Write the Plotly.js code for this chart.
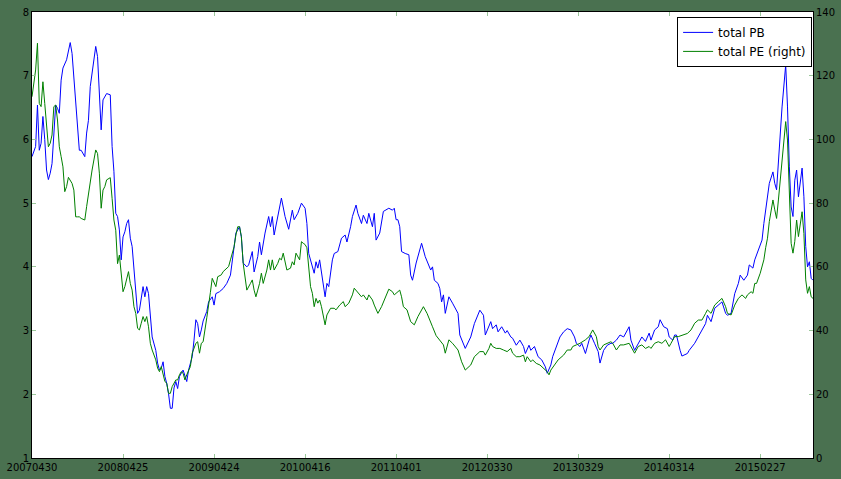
<!DOCTYPE html>
<html>
<head>
<meta charset="utf-8">
<script src="https://cdn.plot.ly/plotly-3.0.1.min.js"></script>
<style>
html,body{margin:0;padding:0;background:#4a7150;}
#chart{width:841px;height:479px;}
</style>
</head>
<body>
<div id="chart"></div>
<script>
const tickIdx = [0, 50, 100, 150, 200, 250, 300, 350, 400];
const tickLabels = ['20070430','20080425','20090424','20100416','20110401','20120330','20130329','20140314','20150227'];

const pbIdx = [0,2,3,4,5,6,7,8,9,10,11,12,13,14,15,16,17,19,21,22,24,25,26,27,29,30,31,32,34,35,36,37,38,39,40,41,43,44,45,46,47,48,49,50,51,52,53,54,55,56,57,58,59,60,61,62,63,64,65,66,68,69,70,71,72,73,74,75,76,77,78,79,80,81,83,84,85,86,88,89,90,91,92,93,94,96,97,99,100,101,103,105,107,109,111,112,114,115,116,118,119,121,122,124,125,126,128,130,131,132,133,135,137,139,141,143,144,146,148,150,151,152,154,155,156,157,158,159,161,162,163,165,166,168,170,172,173,175,176,178,179,181,182,184,185,187,188,189,191,193,196,198,199,200,201,202,203,205,207,208,209,211,214,216,218,219,220,221,223,224,225,226,227,229,231,234,235,238,241,243,246,248,249,252,253,255,256,258,260,261,263,264,266,268,270,271,273,274,276,278,280,282,283,285,286,288,290,292,294,296,297,298,299,301,302,304,306,307,309,311,312,314,316,318,319,321,323,325,328,329,331,333,335,337,339,340,342,344,345,347,349,350,352,353,354,356,357,360,361,364,367,370,371,373,375,377,379,381,382,384,386,388,389,391,393,394,396,397,399,401,402,404,405,407,408,409,411,412,414,415,416,417,418,419,420,421,423,424,425,426,427,428,429];
const pbVals = [5.73,5.89,6.54,5.83,5.94,6.36,6.00,5.52,5.37,5.47,5.62,6.15,6.54,6.49,6.41,6.93,7.12,7.25,7.52,7.35,6.57,6.10,5.83,5.83,5.73,6.10,6.30,6.83,7.30,7.46,7.30,6.62,6.15,6.62,6.67,6.72,6.70,5.89,5.50,4.84,4.79,4.58,4.11,4.47,4.55,4.68,4.74,4.45,4.32,4.00,3.69,3.27,3.32,3.48,3.69,3.53,3.69,3.58,3.17,2.90,2.69,2.49,2.38,2.41,2.51,2.28,2.17,2.01,1.78,1.78,2.10,2.20,2.09,2.28,2.38,2.28,2.20,2.38,2.59,2.85,3.17,3.11,2.90,3.01,3.15,3.30,3.45,3.53,3.40,3.58,3.61,3.66,3.74,3.87,4.26,4.53,4.63,4.47,4.06,4.00,4.03,4.24,3.92,4.16,4.39,4.19,4.53,4.79,4.63,4.79,4.50,4.79,5.08,4.79,4.59,4.89,4.74,4.84,5.00,4.92,4.68,4.21,4.00,3.90,4.08,3.98,4.11,3.90,3.53,3.74,3.69,4.11,4.21,4.24,4.45,4.50,4.39,4.63,4.79,4.97,4.84,4.68,4.81,4.68,4.84,4.63,4.84,4.42,4.53,4.87,4.92,4.89,4.92,4.74,4.74,4.63,4.24,4.21,4.19,3.87,3.79,4.06,4.37,4.16,4.03,3.95,4.00,3.79,3.74,3.66,3.45,3.56,3.27,3.53,3.43,3.27,2.93,2.72,2.90,3.11,3.32,3.24,2.93,3.14,3.03,3.09,2.98,3.06,2.96,3.00,2.90,2.88,2.77,2.85,2.75,2.64,2.77,2.69,2.75,2.59,2.54,2.43,2.33,2.46,2.59,2.75,2.90,2.98,3.03,3.01,2.96,2.90,2.80,2.75,2.80,2.64,2.85,2.93,2.80,2.67,2.49,2.69,2.77,2.80,2.80,2.85,2.93,2.90,3.06,2.85,2.69,2.80,2.90,2.83,2.96,2.85,3.01,3.06,3.17,3.06,3.03,2.90,2.85,2.93,2.93,2.69,2.60,2.64,2.69,2.80,2.96,3.11,3.24,3.14,3.35,3.40,3.45,3.27,3.24,3.27,3.58,3.74,3.87,3.79,3.87,4.03,3.98,4.11,4.26,4.42,4.68,5.10,5.31,5.49,5.31,5.21,6.20,6.51,7.17,6.51,5.57,4.94,4.79,5.36,5.52,5.10,5.55,5.10,4.32,4.00,4.08,3.82,3.79];

const peIdx = [0,2,3,4,5,6,7,8,9,10,11,12,13,14,15,16,17,18,19,20,22,23,24,25,26,27,29,30,31,33,35,36,37,38,39,40,41,43,44,45,46,47,48,49,50,51,52,53,54,55,56,57,58,59,60,61,62,63,64,65,66,68,69,70,71,72,73,74,75,76,77,79,80,81,82,83,84,85,87,88,90,91,92,93,94,96,97,98,99,101,102,104,105,107,108,109,111,112,113,114,115,116,117,118,120,121,122,123,124,125,126,127,129,130,131,132,133,135,136,137,138,139,140,142,143,144,145,147,148,149,150,151,152,153,154,155,156,157,158,159,161,162,164,166,167,169,171,172,174,176,177,178,180,181,182,184,185,187,188,190,192,194,196,198,199,202,203,204,206,208,210,212,215,217,219,220,222,224,226,227,229,231,234,236,238,241,243,246,248,249,251,252,253,255,257,259,261,263,264,266,268,270,271,272,274,275,277,279,281,283,284,285,287,289,292,294,296,297,299,301,304,306,308,310,311,312,314,316,318,319,321,323,325,328,329,331,333,335,337,339,340,342,344,346,348,350,351,353,355,357,360,362,364,366,368,370,371,373,375,377,379,381,382,384,386,388,390,392,393,395,396,397,398,400,402,403,404,405,407,408,409,410,411,412,413,414,415,416,417,418,419,420,421,423,424,425,426,427,428,429];
const peVals = [113.4,121.8,130.2,111.3,110.3,118.1,111.3,104.0,97.7,98.8,101.4,110.3,110.8,106.1,97.7,94.6,91.4,83.6,85.2,88.1,86.2,84.1,75.7,75.7,75.7,75.2,74.7,78.9,83.1,90.4,96.7,95.6,89.4,78.4,84.1,85.2,87.3,88.0,81.5,74.7,71.5,61.0,63.7,57.0,52.2,53.8,56.4,58.5,54.8,52.7,47.5,45.4,40.7,40.2,42.3,44.4,42.8,44.4,41.2,36.0,33.9,30.8,28.2,27.1,28.7,26.6,24.0,23.5,20.3,20.3,22.4,24.5,24.5,26.1,27.1,26.6,24.5,26.1,28.7,32.9,36.0,36.5,32.9,36.0,36.5,44.0,47.5,52.0,56.4,53.8,56.9,57.5,58.5,59.6,60.1,62.2,66.3,70.0,72.6,72.6,69.5,61.1,55.9,52.7,54.8,55.9,52.7,50.6,52.7,54.8,58.0,54.8,59.0,62.2,59.0,62.2,59.0,61.1,62.7,62.2,64.3,61.1,59.0,59.6,61.6,60.6,64.3,62.2,67.9,67.4,67.0,66.0,60.0,53.8,51.7,47.5,50.1,48.6,49.6,47.5,41.8,44.9,47.0,47.0,46.5,48.0,49.1,47.5,48.6,51.2,53.3,52.7,51.2,50.6,51.2,49.6,51.2,49.6,48.0,45.4,47.5,50.1,53.0,52.2,51.2,52.7,50.6,47.5,46.5,42.8,41.8,44.4,47.5,45.4,42.3,41.2,38.4,36.8,35.5,32.9,37.1,36.0,33.9,30.2,27.6,29.2,31.8,33.4,33.4,32.3,34.4,36.0,35.0,34.4,34.4,33.9,33.4,34.4,32.9,31.8,31.8,32.3,30.2,31.8,30.2,30.8,29.7,29.2,28.1,27.1,26.1,27.6,29.2,30.8,32.3,33.9,33.9,35.0,35.5,36.0,37.1,38.1,40.2,38.1,35.0,33.9,35.5,36.0,36.5,36.0,33.9,35.5,35.5,36.0,35.0,32.9,35.0,35.5,34.4,35.0,34.4,36.0,36.5,36.0,37.1,35.0,36.0,38.1,38.1,38.6,39.1,40.2,42.3,43.3,43.3,45.4,46.5,45.4,48.0,49.1,50.1,47.5,45.4,44.9,48.0,50.1,51.2,50.1,51.2,52.2,51.7,54.8,54.8,58.0,62.2,66.0,69.0,74.2,81.0,77.9,75.2,81.0,87.3,95.0,101.9,105.6,99.8,81.0,67.4,64.3,68.0,74.7,69.5,77.3,70.5,55.9,51.7,53.8,50.6,50.1];

const tickFont = {family: 'DejaVu Sans', size: 10, color: '#000'};

const traces = [
  {x: pbIdx, y: pbVals, type: 'scatter', mode: 'lines', name: 'total PB',
   line: {color: '#0000ff', width: 1}, yaxis: 'y'},
  {x: peIdx, y: peVals, type: 'scatter', mode: 'lines', name: 'total PE (right)',
   line: {color: '#008000', width: 1}, yaxis: 'y2'}
];

const layout = {
  width: 841, height: 479,
  paper_bgcolor: '#4a7150', plot_bgcolor: '#ffffff',
  margin: {l: 32, r: 28, t: 12, b: 21, pad: 0},
  showlegend: true,
  legend: {x: 0.826, y: 0.989, xanchor: 'left', yanchor: 'top',
           bgcolor: '#ffffff', bordercolor: '#000000', borderwidth: 1,
           font: {family: 'DejaVu Sans', size: 12, color: '#000'},
           tracegroupgap: 0},
  xaxis: {range: [0, 429], tickmode: 'array', tickvals: tickIdx, ticktext: tickLabels,
          ticks: 'inside', ticklen: 4, tickcolor: '#9cc89c', showgrid: false, zeroline: false,
          showline: true, linecolor: '#000', linewidth: 1, mirror: 'ticks',
          tickfont: tickFont},
  yaxis: {range: [1, 8], dtick: 1, ticks: 'inside', ticklen: 4, tickcolor: '#9cc89c',
          showgrid: false, zeroline: false, showline: true, linecolor: '#000', linewidth: 1,
          tickfont: tickFont},
  yaxis2: {range: [0, 140], dtick: 20, overlaying: 'y', side: 'right', ticks: 'inside', ticklen: 4,
           tickcolor: '#9cc89c', showgrid: false, zeroline: false, showline: true,
           linecolor: '#000', linewidth: 1, tickfont: tickFont}
};

Plotly.newPlot('chart', traces, layout, {displayModeBar: false, staticPlot: true});
</script>
</body>
</html>
